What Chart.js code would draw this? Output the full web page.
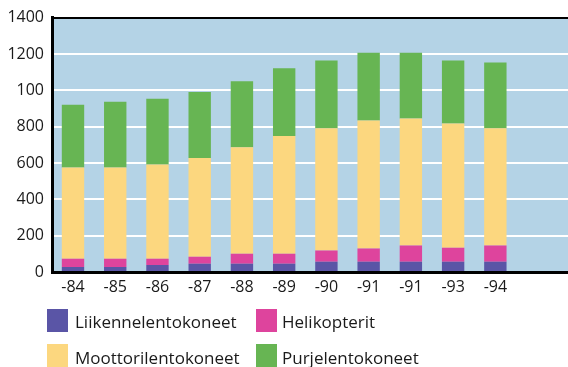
<!DOCTYPE html>
<html>
<head>
<meta charset="utf-8">
<script src="https://cdn.jsdelivr.net/npm/chart.js@4/dist/chart.umd.min.js"></script>
<style>
  html, body { margin: 0; padding: 0; background: #fff; }
</style>
</head>
<body>
<canvas id="lentokoneet" width="568" height="367"></canvas>
<script>
// Rekisteröidyt ilma-alukset vuosittain
var vuodet = ["-84", "-85", "-86", "-87", "-88", "-89", "-90", "-91", "-91", "-93", "-94"];
var liikenne = [28, 28, 39, 45, 45, 45, 56, 56, 56, 56, 56];
var helikopterit = [45, 45, 34, 39, 56, 56, 62, 73, 90, 78, 90];
var moottori = [502, 502, 518, 544, 586, 647, 673, 705, 699, 683, 645];
var purje = [345, 362, 362, 363, 363, 373, 373, 373, 362, 347, 362];
var yTikit = ["0", "200", "400", "600", "800", "100", "1200", "1400"];

var fontti = '"Open Sans", sans-serif';

function pisteet(arvot) {
	return arvot.map(function (v, i) { return { x: i, y: v }; });
}

// taustaväri piirtoalueelle
var tausta = {
	id: "tausta",
	beforeDraw: function (chart) {
		var a = chart.chartArea, c = chart.ctx;
		c.save();
		c.fillStyle = "#b4d3e6";
		c.fillRect(a.left, a.top, a.right - a.left, a.bottom - a.top);
		c.restore();
	}
};

// selite kahdessa sarakkeessa alareunassa
var selite = {
	id: "selite",
	afterDraw: function (chart) {
		var c = chart.ctx;
		var laatikkoX = [47, 256], laatikkoY = [309, 344];
		var tekstiX = [75, 282], tekstiY = [328, 364];
		c.save();
		c.font = "17px " + fontti;
		c.textBaseline = "alphabetic";
		chart.data.datasets.forEach(function (ds, i) {
			var s = i % 2, r = Math.floor(i / 2);
			c.fillStyle = ds.backgroundColor;
			c.fillRect(laatikkoX[s], laatikkoY[r], 21, 23);
			c.fillStyle = "#1a1a1a";
			c.fillText(ds.label, tekstiX[s], tekstiY[r]);
		});
		c.restore();
	}
};

var data = {
	datasets: [
		{ label: "Liikennelentokoneet", data: pisteet(liikenne), backgroundColor: "#5a55a6" },
		{ label: "Helikopterit", data: pisteet(helikopterit), backgroundColor: "#de449d" },
		{ label: "Moottorilentokoneet", data: pisteet(moottori), backgroundColor: "#fcd77f" },
		{ label: "Purjelentokoneet", data: pisteet(purje), backgroundColor: "#67b553" }
	]
};

var options = {
	responsive: false,
	animation: false,
	devicePixelRatio: 1,
	layout: { padding: { top: 15, right: 0, bottom: 0, left: 0 } },
	datasets: { bar: { barPercentage: 0.53, categoryPercentage: 1 } },
	plugins: { legend: { display: false }, tooltip: { enabled: false } },
	scales: {
		x: {
			type: "linear",
			stacked: true,
			offset: false,
			min: -0.497,
			max: 11.72,
			afterBuildTicks: function (scale) {
				scale.ticks = vuodet.map(function (_, i) { return { value: i }; });
			},
			afterFit: function (scale) { scale.height = 95; },
			grid: { display: false, drawTicks: false },
			border: { display: true, color: "#000", width: 3 },
			ticks: {
				padding: 6,
				color: "#1a1a1a",
				font: { family: fontti, size: 16 },
				callback: function (v, i) { return vuodet[i]; }
			}
		},
		y: {
			stacked: true,
			min: 0,
			max: 1400,
			afterFit: function (scale) { scale.width = 52; },
			grid: {
				drawTicks: false,
				color: function (ctx) { return ctx.tick && ctx.tick.value === 1400 ? "#000" : "#fff"; },
				lineWidth: 2
			},
			border: { display: true, color: "#000", width: 3 },
			ticks: {
				stepSize: 200,
				padding: 8,
				color: "#1a1a1a",
				font: { family: fontti, size: 16 },
				callback: function (v, i) { return yTikit[i]; }
			}
		}
	}
};

var kaavio = new Chart(document.getElementById("lentokoneet"), {
	type: "bar",
	data: data,
	options: options,
	plugins: [tausta, selite]
});
</script>
</body>
</html>
